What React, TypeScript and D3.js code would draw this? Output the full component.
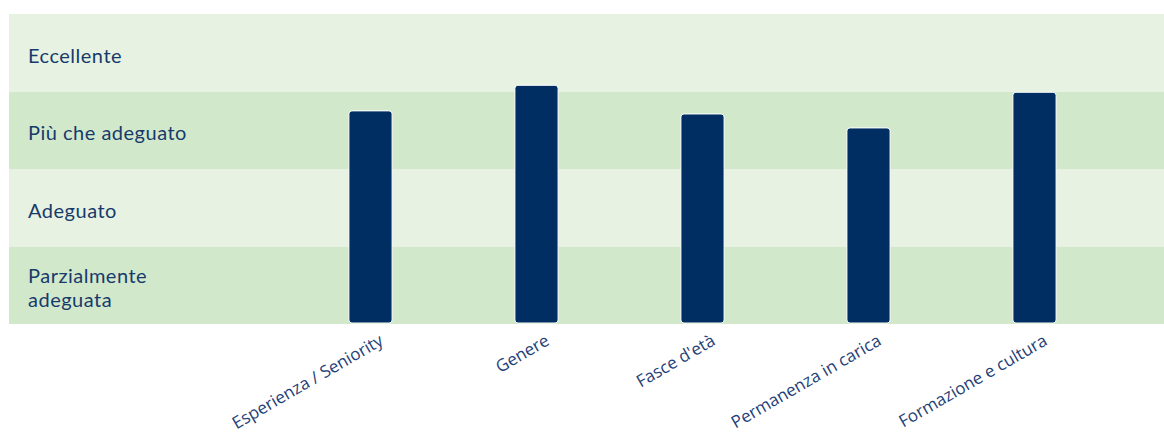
import React, { useEffect } from "react";
import * as d3 from "d3";

const categories = ["Esperienza / Seniority", "Genere", "Fasce d'età", "Permanenza in carica", "Formazione e cultura"];
const values = [2.75, 3.08, 2.71, 2.53, 2.99];
const levels = ["Parzialmente\nadeguata", "Adeguato", "Più che adeguato", "Eccellente"];

const W = 1164;
const H = 435;

export default function App() {
  useEffect(() => {
    document.body.style.margin = "0";
  }, []);

  const bgLeft = 9;
  const bgRight = 1164;
  const y = d3.scaleLinear().domain([0, 4]).range([324, 14]);
  const x = d3.scaleBand<string>().domain(categories).range([287.5, 1117.5]).paddingInner(0.74).paddingOuter(0.37);
  const bandColors = ["#d2e8cb", "#e7f2e2"];
  const textColor = "#173a6b";

  return (
    <svg width={W} height={H} style={{ display: "block" }}>
      {levels.map((lv, i) => (
        <rect
          key={"b" + i}
          x={bgLeft}
          y={y(i + 1)}
          width={bgRight - bgLeft}
          height={y(i) - y(i + 1)}
          fill={bandColors[i % 2]}
        />
      ))}
      {levels.map((lv, i) => {
        const lines = lv.split("\n");
        const cy = (y(i) + y(i + 1)) / 2;
        const lh = 24;
        const start = cy - ((lines.length - 1) * lh) / 2 + 10;
        return (
          <text
            key={"l" + i}
            x={28}
            fontFamily="Lato, 'Open Sans', sans-serif"
            fontSize={20}
            letterSpacing={0.5}
            fill={textColor}
          >
            {lines.map((ln, j) => (
              <tspan key={j} x={28} y={start + j * lh}>
                {ln}
              </tspan>
            ))}
          </text>
        );
      })}
      {categories.map((c, i) => {
        const bx = x(c) as number;
        const bw = x.bandwidth();
        const top = y(values[i]);
        const bottom = y(0) - 1;
        return (
          <rect
            key={"r" + i}
            x={bx}
            y={top}
            width={bw}
            height={bottom - top}
            rx={3}
            ry={3}
            fill="#002d62"
            stroke="#ffffff"
            strokeWidth={1}
          />
        );
      })}
      {categories.map((c, i) => {
        const cx = (x(c) as number) + x.bandwidth() / 2 + 14;
        const cy = 344;
        return (
          <text
            key={"t" + i}
            transform={`translate(${cx},${cy}) rotate(-30)`}
            textAnchor="end"
            fontFamily="'Open Sans', 'Noto Sans', sans-serif"
            fontWeight={400}
            fontSize={17}
            fill="#1f4178"
          >
            {c}
          </text>
        );
      })}
    </svg>
  );
}
